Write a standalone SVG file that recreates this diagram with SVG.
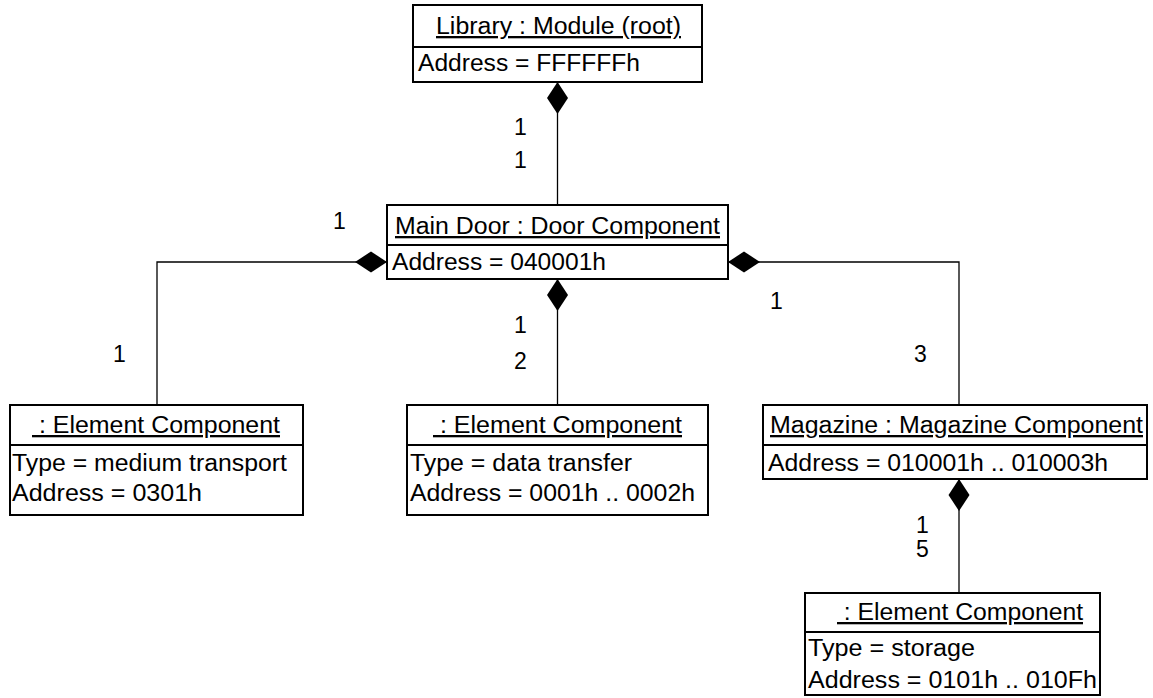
<svg xmlns="http://www.w3.org/2000/svg" width="1153" height="698" viewBox="0 0 1153 698">
<style>
  .box { fill: #ffffff; stroke: #000000; stroke-width: 2; }
  .div { stroke: #000000; stroke-width: 2; }
  .t { font-family: "Liberation Sans", Arial, sans-serif; font-size: 23px; fill: #000000; }
  .title { text-decoration: underline; }
  .conn { fill: none; stroke: #000000; stroke-width: 1.3; }
  .m { font-family: "Liberation Sans", Arial, sans-serif; font-size: 23px; fill: #000000; }
</style>
<defs>
  <marker id="diamond" markerUnits="userSpaceOnUse" markerWidth="34" markerHeight="24" viewBox="0 -12 34 24" refX="0" refY="0" orient="auto">
    <path d="M0,0 L16,-10.5 L32,0 L16,10.5 Z" fill="#000000"/>
  </marker>
</defs>
<rect width="1153" height="698" fill="#ffffff"/>
<g id="connectors">
  <path class="conn" d="M557.5,82 V205" marker-start="url(#diamond)"/>
  <path class="conn" d="M387,262 H157 V405" marker-start="url(#diamond)"/>
  <path class="conn" d="M557.5,279 V405" marker-start="url(#diamond)"/>
  <path class="conn" d="M728,262 H959 V405" marker-start="url(#diamond)"/>
  <path class="conn" d="M959,479 V593" marker-start="url(#diamond)"/>
</g>
<g id="multiplicities">
  <text class="m" x="514" y="135">1</text>
  <text class="m" x="514" y="168">1</text>
  <text class="m" x="333" y="229">1</text>
  <text class="m" x="113" y="362">1</text>
  <text class="m" x="514" y="333">1</text>
  <text class="m" x="514" y="369">2</text>
  <text class="m" x="770" y="309">1</text>
  <text class="m" x="914" y="362">3</text>
  <text class="m" x="916" y="533">1</text>
  <text class="m" x="916" y="557">5</text>
</g>
<g id="library">
  <rect class="box" x="413" y="5" width="289" height="77"/>
  <line class="div" x1="413" y1="47" x2="702" y2="47"/>
  <text class="t title" x="558.5" y="34" text-anchor="middle" textLength="245" lengthAdjust="spacingAndGlyphs">Library : Module (root)</text>
  <text class="t" x="418" y="71" textLength="222" lengthAdjust="spacingAndGlyphs">Address = FFFFFFh</text>
</g>
<g id="maindoor">
  <rect class="box" x="387" y="205" width="341" height="74"/>
  <line class="div" x1="387" y1="245" x2="728" y2="245"/>
  <text class="t title" x="557.5" y="234" text-anchor="middle" textLength="325" lengthAdjust="spacingAndGlyphs">Main Door : Door Component</text>
  <text class="t" x="392" y="270" textLength="214" lengthAdjust="spacingAndGlyphs">Address = 040001h</text>
</g>
<g id="element1">
  <rect class="box" x="10" y="405" width="293" height="110"/>
  <line class="div" x1="10" y1="445" x2="303" y2="445"/>
  <text class="t title" x="156" y="433" text-anchor="middle" textLength="248" lengthAdjust="spacingAndGlyphs" xml:space="preserve"> : Element Component</text>
  <text class="t" x="12" y="471" textLength="275" lengthAdjust="spacingAndGlyphs">Type = medium transport</text>
  <text class="t" x="12" y="501" textLength="190" lengthAdjust="spacingAndGlyphs">Address = 0301h</text>
</g>
<g id="element2">
  <rect class="box" x="407" y="405" width="301" height="110"/>
  <line class="div" x1="407" y1="445" x2="708" y2="445"/>
  <text class="t title" x="557.5" y="433" text-anchor="middle" textLength="249" lengthAdjust="spacingAndGlyphs" xml:space="preserve"> : Element Component</text>
  <text class="t" x="410" y="471" textLength="222" lengthAdjust="spacingAndGlyphs">Type = data transfer</text>
  <text class="t" x="410" y="501" textLength="285" lengthAdjust="spacingAndGlyphs">Address = 0001h .. 0002h</text>
</g>
<g id="magazine">
  <rect class="box" x="763" y="405" width="384" height="74"/>
  <line class="div" x1="763" y1="445" x2="1147" y2="445"/>
  <text class="t title" x="956.5" y="433" text-anchor="middle" textLength="373" lengthAdjust="spacingAndGlyphs">Magazine : Magazine Component</text>
  <text class="t" x="768" y="471" textLength="340" lengthAdjust="spacingAndGlyphs">Address = 010001h .. 010003h</text>
</g>
<g id="element4">
  <rect class="box" x="805" y="593" width="295" height="102"/>
  <line class="div" x1="805" y1="632" x2="1100" y2="632"/>
  <text class="t title" x="960" y="620" text-anchor="middle" textLength="246" lengthAdjust="spacingAndGlyphs" xml:space="preserve"> : Element Component</text>
  <text class="t" x="808" y="656" textLength="167" lengthAdjust="spacingAndGlyphs">Type = storage</text>
  <text class="t" x="808" y="688" textLength="289" lengthAdjust="spacingAndGlyphs">Address = 0101h .. 010Fh</text>
</g>
</svg>
